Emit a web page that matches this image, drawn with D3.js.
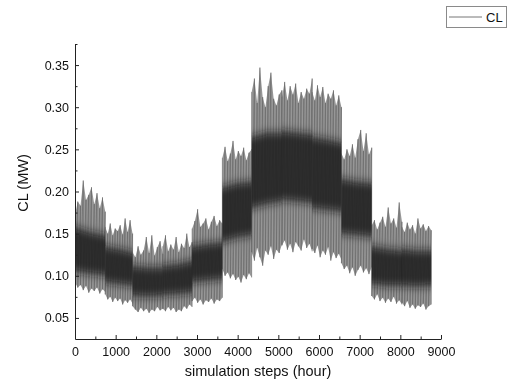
<!DOCTYPE html>
<html>
<head>
<meta charset="utf-8">
<script src="https://cdn.jsdelivr.net/npm/d3@7"></script>
<style>
  body { margin: 0; background: #fff; }
  svg { display: block; font-family: "Liberation Sans", Arial, sans-serif; }
</style>
</head>
<body>
<svg id="chart" width="514" height="387"></svg>
<script>
// month boundaries in hours (the load level changes at each of them)
const monthStart = [0, 744, 1416, 2160, 2880, 3624, 4344, 5088, 5832, 6552, 7296, 8040, 8760];

// upper envelope (peaks) of the hourly CL series, 12 samples per month
const hiVals = [
  [0.172, 0.188, 0.183, 0.213, 0.190, 0.196, 0.205, 0.185, 0.198, 0.180, 0.193, 0.176],
  [0.158, 0.150, 0.162, 0.148, 0.156, 0.153, 0.160, 0.149, 0.168, 0.152, 0.166, 0.150],
  [0.128, 0.122, 0.135, 0.125, 0.130, 0.146, 0.127, 0.148, 0.124, 0.134, 0.141, 0.126],
  [0.135, 0.148, 0.129, 0.137, 0.131, 0.146, 0.128, 0.138, 0.133, 0.150, 0.134, 0.140],
  [0.156, 0.165, 0.179, 0.158, 0.162, 0.168, 0.155, 0.164, 0.171, 0.159, 0.166, 0.162],
  [0.240, 0.253, 0.236, 0.245, 0.260, 0.238, 0.248, 0.242, 0.252, 0.237, 0.246, 0.250],
  [0.318, 0.334, 0.305, 0.347, 0.312, 0.300, 0.325, 0.341, 0.310, 0.302, 0.315, 0.320],
  [0.312, 0.330, 0.308, 0.325, 0.315, 0.328, 0.305, 0.318, 0.310, 0.322, 0.316, 0.334],
  [0.318, 0.308, 0.326, 0.312, 0.324, 0.305, 0.316, 0.310, 0.320, 0.302, 0.314, 0.300],
  [0.245, 0.238, 0.250, 0.242, 0.256, 0.240, 0.262, 0.273, 0.248, 0.269, 0.244, 0.252],
  [0.160, 0.166, 0.155, 0.163, 0.170, 0.158, 0.181, 0.162, 0.168, 0.157, 0.187, 0.164],
  [0.158, 0.152, 0.163, 0.155, 0.160, 0.150, 0.168, 0.156, 0.161, 0.153, 0.159, 0.154]
];

// lower envelope (troughs)
const loVals = [
  [0.092, 0.086, 0.089, 0.083, 0.088, 0.080, 0.085, 0.082, 0.086, 0.079, 0.084, 0.081],
  [0.078, 0.072, 0.075, 0.069, 0.074, 0.070, 0.073, 0.066, 0.071, 0.068, 0.072, 0.067],
  [0.064, 0.060, 0.057, 0.062, 0.058, 0.061, 0.056, 0.060, 0.058, 0.063, 0.059, 0.061],
  [0.061, 0.058, 0.063, 0.059, 0.062, 0.057, 0.060, 0.058, 0.064, 0.061, 0.066, 0.063],
  [0.070, 0.074, 0.068, 0.072, 0.066, 0.071, 0.069, 0.073, 0.067, 0.072, 0.070, 0.074],
  [0.108, 0.100, 0.104, 0.097, 0.102, 0.095, 0.099, 0.092, 0.101, 0.096, 0.103, 0.098],
  [0.128, 0.118, 0.133, 0.122, 0.112, 0.130, 0.125, 0.135, 0.120, 0.131, 0.127, 0.137],
  [0.136, 0.142, 0.131, 0.138, 0.128, 0.140, 0.135, 0.130, 0.143, 0.133, 0.138, 0.129],
  [0.132, 0.127, 0.136, 0.122, 0.130, 0.125, 0.134, 0.118, 0.128, 0.121, 0.126, 0.119],
  [0.115, 0.108, 0.112, 0.103, 0.110, 0.100, 0.107, 0.112, 0.104, 0.109, 0.102, 0.110],
  [0.076, 0.072, 0.078, 0.070, 0.074, 0.068, 0.073, 0.069, 0.075, 0.067, 0.071, 0.066],
  [0.068, 0.064, 0.070, 0.062, 0.066, 0.061, 0.065, 0.063, 0.067, 0.060, 0.064, 0.066]
];

// dense (dark) core of the trace: start, middle, end of each month
const coreHi = [
  [0.158, 0.152, 0.148], [0.135, 0.132, 0.128], [0.112, 0.110, 0.110], [0.112, 0.114, 0.118],
  [0.135, 0.138, 0.140], [0.205, 0.210, 0.212], [0.265, 0.270, 0.270], [0.272, 0.270, 0.268],
  [0.265, 0.262, 0.258], [0.215, 0.212, 0.210], [0.135, 0.132, 0.130], [0.132, 0.130, 0.130]
];
const coreLo = [
  [0.105, 0.102, 0.100], [0.092, 0.090, 0.088], [0.076, 0.075, 0.076], [0.077, 0.078, 0.080],
  [0.092, 0.094, 0.096], [0.140, 0.145, 0.148], [0.180, 0.185, 0.188], [0.190, 0.188, 0.186],
  [0.180, 0.178, 0.176], [0.150, 0.148, 0.146], [0.090, 0.088, 0.088], [0.088, 0.087, 0.088]
];

const xTicks = d3.range(0, 9001, 1000);
const xMinor = d3.range(500, 9000, 1000);
const yTicks = [0.05, 0.10, 0.15, 0.20, 0.25, 0.30, 0.35];
const yMinor = [0.075, 0.125, 0.175, 0.225, 0.275, 0.325, 0.375];

const svg = d3.select("#chart");
const mLeft = 75, mRight = 441, mTop = 44, mBottom = 339;

const x = d3.scaleLinear().domain([0, 9000]).range([mLeft, mRight]);
const y = d3.scaleLinear().domain([0.025, 0.375]).range([mBottom, mTop]);

const defs = svg.append("defs");
defs.append("clipPath").attr("id", "plot")
  .append("rect").attr("x", mLeft).attr("y", mTop).attr("width", mRight - mLeft).attr("height", mBottom - mTop);
defs.append("filter").attr("id", "soft")
  .attr("x", "-5%").attr("y", "-40%").attr("width", "110%").attr("height", "180%")
  .append("feGaussianBlur").attr("stdDeviation", "0.4 4.5");

// turn the per-month samples into hour-stamped points
function monthPoints(m, a, b) {
  const h0 = monthStart[m], h1 = monthStart[m + 1], n = a[m].length;
  return a[m].map((v, j) => ({ h: h0 + j * (h1 - h0) / (n - 1), hi: v, lo: b[m][j] }));
}

const g = svg.append("g").attr("clip-path", "url(#plot)");

const band = d3.area().x(d => x(d.h)).y0(d => y(d.lo)).y1(d => y(d.hi));

// outer envelope
monthStart.slice(0, 12).forEach((s, m) => {
  g.append("path").datum(monthPoints(m, hiVals, loVals))
    .attr("d", band).attr("fill", "#979797");
});

// trace swinging between peaks and troughs
const trace = d3.line().x(d => x(d.h)).y(d => y(d.v));
monthStart.slice(0, 12).forEach((s, m) => {
  const pts = [];
  monthPoints(m, hiVals, loVals).forEach(d => { pts.push({ h: d.h, v: d.hi }); pts.push({ h: d.h, v: d.lo }); });
  g.append("path").datum(pts).attr("d", trace)
    .attr("fill", "none").attr("stroke", "#666").attr("stroke-width", 0.6);
});

// dark core
const coreG = g.append("g").attr("filter", "url(#soft)");
monthStart.slice(0, 12).forEach((s, m) => {
  coreG.append("path").datum(monthPoints(m, coreHi, coreLo))
    .attr("d", band).attr("fill", "#161616").attr("opacity", 0.82);
});

// axes, ticks pointing inward
svg.append("g").attr("transform", `translate(${mLeft},0)`)
  .call(d3.axisLeft(y).tickValues(yTicks).tickFormat(d3.format(".2f")).tickSize(-4).tickSizeOuter(0).tickPadding(6));
svg.append("g").attr("transform", `translate(${mLeft},0)`)
  .call(d3.axisLeft(y).tickValues(yMinor).tickFormat("").tickSize(-2.5).tickSizeOuter(0))
  .select(".domain").remove();

svg.append("g").attr("transform", `translate(0,${mBottom})`)
  .call(d3.axisBottom(x).tickValues(xTicks).tickFormat(d3.format("d")).tickSize(-4).tickSizeOuter(0).tickPadding(8));
svg.append("g").attr("transform", `translate(0,${mBottom})`)
  .call(d3.axisBottom(x).tickValues(xMinor).tickFormat("").tickSize(-2.5).tickSizeOuter(0))
  .select(".domain").remove();

svg.selectAll(".tick text").attr("font-size", 12.5).attr("fill", "#111").attr("font-family", "Liberation Sans, Arial, sans-serif");
svg.selectAll(".domain, .tick line").attr("stroke", "#222");

// axis titles
svg.append("text").attr("x", 258).attr("y", 376).attr("text-anchor", "middle")
  .attr("font-size", 14.5).attr("fill", "#111").text("simulation steps (hour)");
svg.append("text").attr("transform", "translate(28,183) rotate(-90)").attr("text-anchor", "middle")
  .attr("font-size", 14.5).attr("fill", "#111").text("CL (MW)");

// legend
const lg = svg.append("g");
lg.append("rect").attr("x", 446.5).attr("y", 6.5).attr("width", 60).attr("height", 21)
  .attr("fill", "#fff").attr("stroke", "#8a8a8a");
lg.append("line").attr("x1", 449).attr("x2", 482).attr("y1", 17).attr("y2", 17)
  .attr("stroke", "#777").attr("stroke-width", 1);
lg.append("text").attr("x", 486).attr("y", 22).attr("font-size", 13).attr("fill", "#111").text("CL");
</script>
</body>
</html>
